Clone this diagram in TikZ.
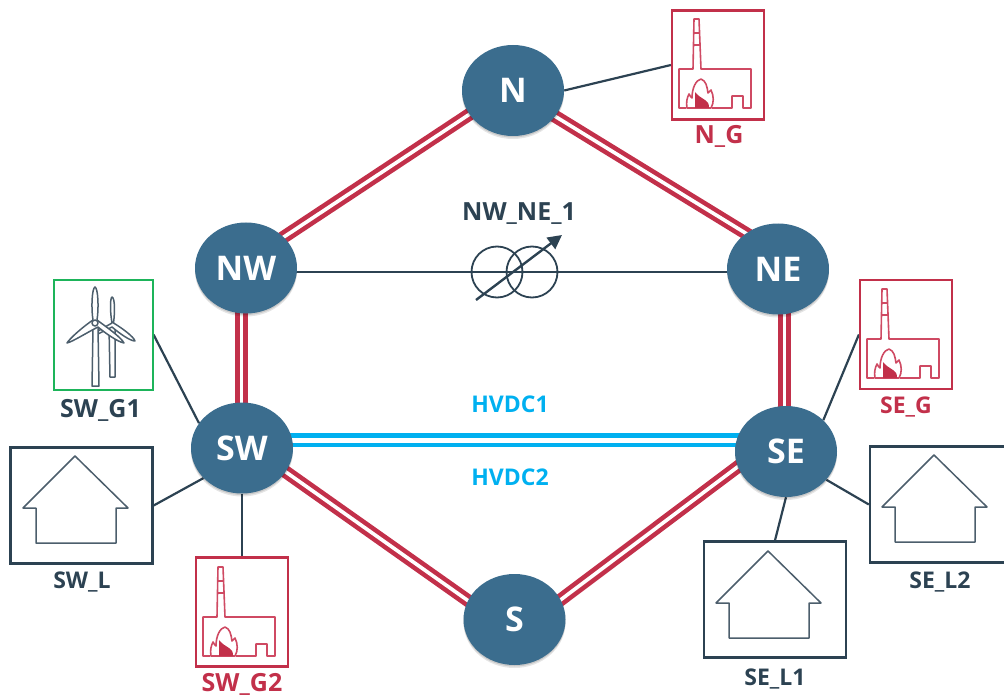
\documentclass[tikz,border=0pt]{standalone}
\usepackage{fontspec}
\setmainfont{Open Sans}
\usetikzlibrary{backgrounds,arrows.meta,shapes.geometric}
\definecolor{busblue}{HTML}{3B6D8E}
\definecolor{inkdark}{HTML}{2C4252}
\definecolor{linered}{HTML}{C2304A}
\definecolor{iconred}{HTML}{CF4A63}
\definecolor{hvdc}{HTML}{00B0F0}
\definecolor{windgreen}{HTML}{1DB45A}
\tikzset{
  x=1pt,y=-1pt,
  bus/.style={ellipse,fill=busblue,text=white,inner sep=0pt,minimum width=102pt,minimum height=91pt,font=\fontsize{34}{36}\selectfont\bfseries,
    preaction={fill=black,opacity=.10,transform canvas={yshift=-3pt}},
    preaction={fill=black,opacity=.12,transform canvas={yshift=-1.5pt}}},
  acline/.style={draw=linered,line width=4.6pt,double=white,double distance=3.6pt},
  dcline/.style={draw=hvdc,line width=4.7pt,double=white,double distance=5pt},
  thin conn/.style={draw=inkdark,line width=2.2pt},
  redbox/.style={draw=linered,line width=2.2pt,minimum width=92pt,minimum height=109pt,inner sep=0pt},
  greenbox/.style={draw=windgreen,line width=2pt,minimum width=99pt,minimum height=110pt,inner sep=0pt},
  loadbox/.style={draw=inkdark,line width=2.3pt,minimum width=142pt,minimum height=116pt,inner sep=0pt},
  lbl/.style={font=\fontsize{23}{26}\selectfont\bfseries,inner sep=0pt,anchor=base},
  biglbl/.style={font=\fontsize{25}{28}\selectfont\bfseries},
  darklbl/.style={lbl,text=inkdark},
  redlbl/.style={lbl,text=linered},
  bluelbl/.style={lbl,text=hvdc},
  winding/.style={circle,draw=inkdark,line width=1.8pt,minimum size=51pt,inner sep=0pt},
  factory/.pic={
    \draw[iconred,line width=1.6pt,line join=round]
      (14,98)--(7,98)--(7,59)--(21,59)--(22,9)--(27,9)--(29,59)--(79,59)--(79,98)--(71,98)--(71,86)--(60,86)--(60,98)--(40,98);
    \draw[iconred,line width=1.2pt] (21.5,23)--(27.5,23) (21,35)--(28,35);
    \draw[iconred,line width=1.6pt,line join=round]
      (15,98) .. controls (14,92) and (15,88) .. (17,84) .. controls (18,86) and (19,87) .. (20,88)
      .. controls (20,78) and (24,70) .. (29,69) .. controls (34,71) and (35,76) .. (36,83)
      .. controls (38,82) and (38,81) .. (39,80) .. controls (42,86) and (42,93) .. (39,98) -- cycle;
    \fill[linered] (23,98) -- (23,82) .. controls (26,86) and (30,88) .. (33,90)
      .. controls (36,91) and (37,94) .. (37,98) -- cycle;
  },
  house/.pic={
    \draw[inkdark!85,line width=1.5pt,line join=round]
      (0,0)--(-52,52)--(-39,52)--(-39,87)--(41,87)--(41,52)--(53,52)--cycle;
  },
}
\begin{document}
\begin{tikzpicture}
\useasboundingbox (0,0) rectangle (1004,695);

% buses
\node[bus] (N) at (513,90.5) {N};
\node[bus] (NW) at (246,268) {NW};
\node[bus] (NE) at (778,269) {NE};
\node[bus] (SW) at (242,448) {SW};
\node[bus] (SE) at (786,451.5) {SE};
\node[bus] (S) at (514.5,619.5) {S};

% asset boxes
\node[redbox] (NG) at (718,65) {};
\pic at (672,10) {factory};
\node[redlbl,biglbl] (NGl) at (719,144) {N\_G};

\node[redbox] (SEG) at (906,334.5) {};
\pic at (860,280) {factory};
\node[redlbl] (SEGl) at (906,413) {SE\_G};

\node[redbox] (SWG2) at (242,612) {};
\pic at (196,558) {factory};
\node[redlbl,biglbl] (SWG2l) at (242,691) {SW\_G2};

\node[greenbox] (G1) at (103,334.5) {};
\node[darklbl,biglbl] (G1l) at (100.5,417) {SW\_G1};
% turbines
\begin{scope}[inkdark!85,line width=1.5pt,line join=round]
  \draw[fill=white] (109,327)--(110,377)--(115,377)--(115,327);
  \draw[fill=white] (112,323) .. controls (110,312) and (110,298) .. (112,297) .. controls (115,298) and (115,312) .. (113.5,323) .. controls (122,328) and (134,337) .. (135,341) .. controls (130,341) and (119,333) .. (112,327) -- (98,334) -- (98,331) -- cycle;
  \draw[fill=white] (93,328)--(92,386)--(99,386)--(98,328);
  \draw[fill=white] (93,320) .. controls (91,308) and (92,288) .. (95,287) .. controls (98,288) and (99,308) .. (97,320) .. controls (105,326) and (121,337) .. (124,343) .. controls (118,342) and (105,333) .. (98,327) .. controls (88,332) and (72,342) .. (67,343) .. controls (70,338) and (84,326) .. (93,320) -- cycle;
  \draw[fill=white] (95,323) circle (3pt);
\end{scope}

\node[loadbox] (SWL) at (81.5,505.5) {};
\pic at (75,456) {house};
\node[darklbl] (SWLl) at (82,588) {SW\_L};

\node[loadbox] (SEL1) at (775,599.5) {};
\pic at (768,551) {house};
\node[darklbl] (SEL1l) at (775,685) {SE\_L1};

\node[loadbox] (SEL2) at (941,504.5) {};
\pic at (934,455) {house};
\node[darklbl] (SEL2l) at (940,588) {SE\_L2};

% transformer
\node[winding] (T1) at (497,272) {};
\node[winding] (T2) at (532,272) {};
\coordinate (Ta) at (476,300);
\coordinate (Tb) at (562,235);
\draw[inkdark,line width=2.4pt,-{Triangle[length=14pt,width=14pt]}] (Ta) -- (Tb);
\node[darklbl,biglbl] (Tl) at (519,221) {NW\_NE\_1};

\node[bluelbl] (D1) at (510,412) {HVDC1};
\node[bluelbl] (D2) at (510,485) {HVDC2};

\begin{pgfonlayer}{background}
  \draw[acline] ([yshift=5pt]N.center) -- ([yshift=6pt]NW.center);
  \draw[acline] (N.center) -- ([yshift=16pt]NE.center);
  \draw[acline] ([xshift=-4.5pt]NW.center) -- ([xshift=-.5pt]SW.center);
  \draw[acline] ([xshift=6.5pt]NE.center) -- ([xshift=-1.5pt]SE.center);
  \draw[acline] ([yshift=7pt]SW.center) -- ([yshift=-14pt]S.center);
  \draw[acline] ([yshift=21pt]SE.center) -- ([yshift=-15pt]S.center);
  \draw[dcline] ([yshift=8pt]SW.center) -- ([yshift=11.5pt]SE.center);
  \draw[thin conn] ([yshift=-4pt]NW.center) -- ([yshift=-3pt]NE.center);
  \draw[thin conn] (N.east) -- (NG.west);
  \draw[thin conn] (SW.150) -- (G1.east);
  \draw[thin conn] (SW.218) -- (SWL.east);
  \draw[thin conn] (SW.south) -- (SWG2.north);
  \draw[thin conn] (SE.40) -- (SEG.west);
  \draw[thin conn] (SE.south) -- (SEL1.north);
  \draw[thin conn] (SE.-35) -- (SEL2.west);
\end{pgfonlayer}
\end{tikzpicture}
\end{document}
